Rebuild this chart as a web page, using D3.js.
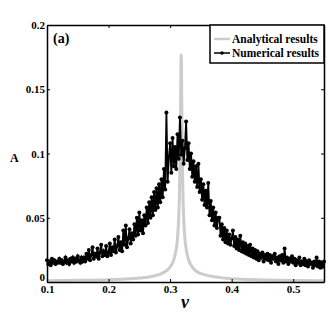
<!DOCTYPE html>
<html>
<head>
<meta charset="utf-8">
<script src="https://cdn.jsdelivr.net/npm/d3@7"></script>
<style>
  body { margin: 0; background: #fff; }
  svg text { font-family: "Liberation Serif", "Times New Roman", serif; font-weight: bold; }
</style>
</head>
<body>
<svg id="chart" width="330" height="319"></svg>
<script>
// numerical results, step 0.002 from 0.100 to 0.550
const numStart = 0.1;
const numStep = 0.002;
const numValues = [
  0.017, 0.014, 0.016, 0.013, 0.018, 0.015, 0.017, 0.014, 0.016, 0.015,
  0.018, 0.015, 0.017, 0.014, 0.016, 0.019, 0.015, 0.017, 0.014, 0.018,
  0.016, 0.019, 0.015, 0.018, 0.016, 0.020, 0.017, 0.015, 0.019, 0.016,
  0.019, 0.016, 0.022, 0.018, 0.025, 0.017, 0.021, 0.027, 0.018, 0.022,
  0.020, 0.026, 0.018, 0.023, 0.029, 0.020, 0.024, 0.021, 0.028, 0.020,
  0.023, 0.030, 0.021, 0.027, 0.024, 0.033, 0.023, 0.028, 0.035, 0.025,
  0.031, 0.024, 0.040, 0.029, 0.044, 0.027, 0.034, 0.041, 0.030, 0.038,
  0.033, 0.045, 0.036, 0.050, 0.037, 0.054, 0.040, 0.048, 0.038, 0.052,
  0.044, 0.058, 0.046, 0.062, 0.050, 0.066, 0.052, 0.070, 0.056, 0.073,
  0.058, 0.076, 0.062, 0.080, 0.066, 0.088, 0.072, 0.132, 0.078, 0.097,
  0.108, 0.085, 0.112, 0.090, 0.105, 0.088, 0.115, 0.096, 0.128, 0.099,
  0.110, 0.092, 0.104, 0.125, 0.095, 0.108, 0.088, 0.100, 0.082, 0.094,
  0.078, 0.090, 0.074, 0.092, 0.070, 0.080, 0.064, 0.076, 0.060, 0.071,
  0.058, 0.077, 0.052, 0.063, 0.048, 0.058, 0.044, 0.054, 0.042, 0.050,
  0.050, 0.036, 0.045, 0.033, 0.042, 0.031, 0.040, 0.030, 0.037, 0.029,
  0.034, 0.040, 0.028, 0.035, 0.026, 0.033, 0.025, 0.036, 0.024, 0.031,
  0.023, 0.030, 0.022, 0.028, 0.021, 0.029, 0.020, 0.026, 0.019, 0.025,
  0.018, 0.024, 0.017, 0.022, 0.019, 0.023, 0.016, 0.021, 0.018, 0.022,
  0.017, 0.021, 0.015, 0.020, 0.018, 0.022, 0.016, 0.019, 0.014, 0.020,
  0.017, 0.021, 0.015, 0.026, 0.016, 0.019, 0.014, 0.018, 0.016, 0.020,
  0.015, 0.018, 0.013, 0.017, 0.015, 0.019, 0.013, 0.016, 0.014, 0.018,
  0.013, 0.016, 0.012, 0.017, 0.014, 0.015, 0.011, 0.016, 0.013, 0.019,
  0.012, 0.016, 0.011, 0.015, 0.012, 0.016
];

// analytical results
const anaV = [0.1, 0.15, 0.2, 0.25, 0.27, 0.29, 0.3, 0.306, 0.31, 0.312, 0.314, 0.315, 0.316, 0.317, 0.3175, 0.318,
  0.3185, 0.319, 0.32, 0.321, 0.322, 0.324, 0.326, 0.33, 0.336, 0.35, 0.4, 0.45, 0.5, 0.55];
const anaA = [0.001, 0.0013, 0.0018, 0.0031, 0.0043, 0.0075, 0.0116, 0.0173, 0.026, 0.034, 0.050, 0.065, 0.090, 0.135, 0.163, 0.177,
  0.163, 0.135, 0.090, 0.065, 0.050, 0.034, 0.026, 0.0173, 0.0116, 0.0065, 0.0025, 0.0016, 0.0011, 0.0009];

const xTicks = [0.1, 0.2, 0.3, 0.4, 0.5];
const yTicks = [0, 0.05, 0.1, 0.15, 0.2];
const legendLabels = ["Analytical results", "Numerical results"];

const numerical = numValues.map((a, i) => ({ v: numStart + i * numStep, a: a }));
const analytical = anaV.map((v, i) => ({ v: v, a: anaA[i] }));

const margin = { top: 25, right: 6, bottom: 37, left: 47 };
const width = 330 - margin.left - margin.right;
const height = 319 - margin.top - margin.bottom;

const x = d3.scaleLinear().domain([0.1, 0.55]).range([0, width]);
const y = d3.scaleLinear().domain([0, 0.2]).range([height, 0]);

const svg = d3.select("#chart");
const g = svg.append("g").attr("transform", `translate(${margin.left},${margin.top})`);

// curves
g.append("path")
  .datum(analytical)
  .attr("fill", "none")
  .attr("stroke", "#cccccc")
  .attr("stroke-width", 3)
  .attr("d", d3.line().x(d => x(d.v)).y(d => y(d.a)).curve(d3.curveMonotoneX));

g.append("path")
  .datum(numerical)
  .attr("fill", "none")
  .attr("stroke", "#000")
  .attr("stroke-width", 1.8)
  .attr("d", d3.line().x(d => x(d.v)).y(d => y(d.a)));

g.selectAll(".dot")
  .data(numerical)
  .join("circle")
  .attr("class", "dot")
  .attr("cx", d => x(d.v))
  .attr("cy", d => y(d.a))
  .attr("r", 2)
  .attr("fill", "#000");

// axes, ticks pointing inward on all four sides
const tickFmt = d => d3.format("")(d);
const axBottom = g.append("g").attr("transform", `translate(0,${height})`)
  .call(d3.axisBottom(x).tickValues(xTicks).tickSizeInner(-3).tickSizeOuter(0).tickPadding(5).tickFormat(tickFmt));
const axTop = g.append("g")
  .call(d3.axisTop(x).tickValues(xTicks).tickSizeInner(-3).tickSizeOuter(0).tickFormat(""));
const axLeft = g.append("g")
  .call(d3.axisLeft(y).tickValues(yTicks).tickSizeInner(-3).tickSizeOuter(0).tickPadding(2).tickFormat(tickFmt));
const axRight = g.append("g").attr("transform", `translate(${width},0)`)
  .call(d3.axisRight(y).tickValues(yTicks).tickSizeInner(-3).tickSizeOuter(0).tickFormat(""));

[axBottom, axTop, axLeft, axRight].forEach(a => {
  a.select(".domain").attr("stroke", "#000").attr("stroke-width", 1.5);
  a.selectAll(".tick line").attr("stroke", "#000").attr("stroke-width", 1);
  a.selectAll("text").attr("font-size", 11).attr("fill", "#000")
    .attr("font-family", "Liberation Serif, serif").attr("font-weight", "bold");
});
axLeft.selectAll(".tick text").attr("dy", d => d === 0 ? "-0.1em" : "0.32em");
axBottom.selectAll(".tick text").attr("dy", "0.55em");

// labels
svg.append("text").attr("x", 10).attr("y", 162).attr("font-size", 12).text("A");
svg.append("text").attr("x", 185).attr("y", 308).attr("text-anchor", "middle")
  .attr("font-size", 18).attr("font-style", "italic").attr("font-weight", "normal").text("ν");
g.append("text").attr("x", 6).attr("y", 18).attr("font-size", 14).text("(a)");

// legend
const lg = g.append("g").attr("transform", `translate(${width - 114},0)`);
lg.append("rect").attr("width", 114).attr("height", 38)
  .attr("fill", "#fff").attr("stroke", "#000").attr("stroke-width", 1.5);
const items = lg.selectAll(".item").data(legendLabels).join("g")
  .attr("transform", (d, i) => `translate(0,${14 + i * 14})`);
items.append("line").attr("x1", 4).attr("x2", 20).attr("y1", 0).attr("y2", 0)
  .attr("stroke", (d, i) => i === 0 ? "#cccccc" : "#000")
  .attr("stroke-width", (d, i) => i === 0 ? 2.5 : 1.5);
items.filter((d, i) => i === 1).append("circle").attr("cx", 12).attr("cy", 0).attr("r", 1.8).attr("fill", "#000");
items.append("text").attr("x", 22).attr("y", 0).attr("dy", "0.35em").attr("font-size", 11.5).text(d => d);
</script>
</body>
</html>
